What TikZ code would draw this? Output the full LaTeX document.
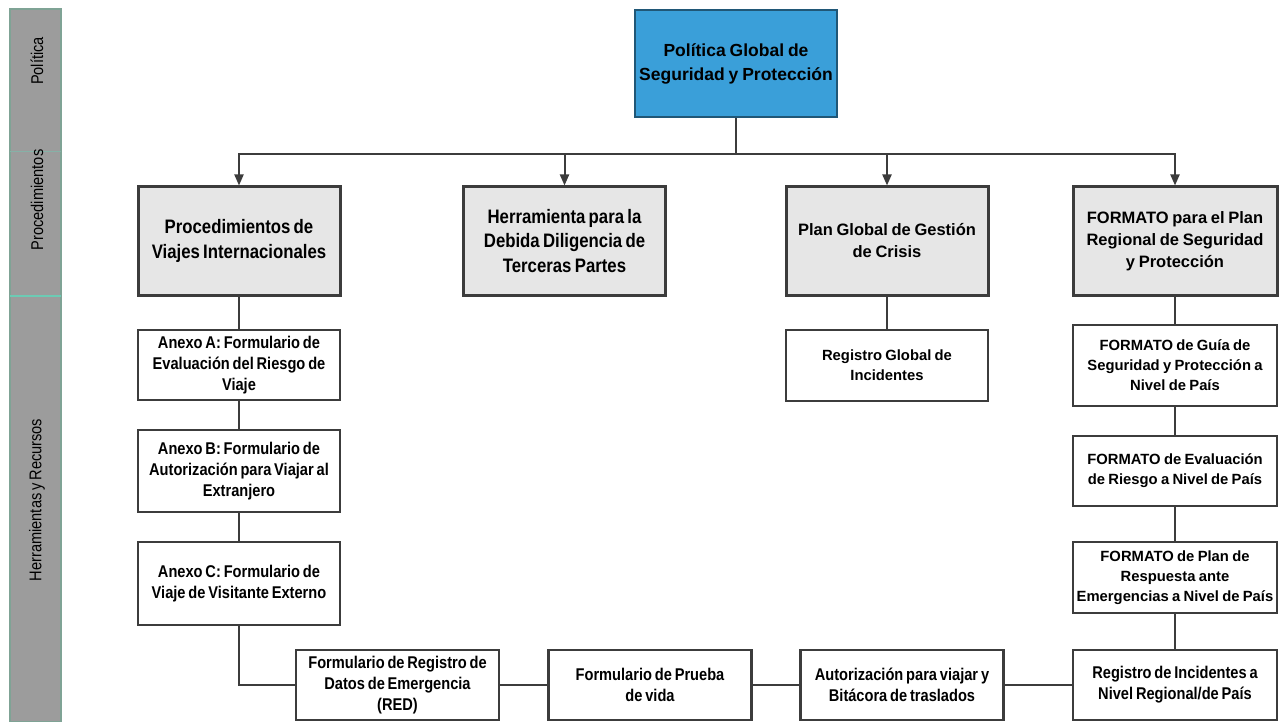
\documentclass[tikz,border=0pt]{standalone}
\usepackage{fontspec}
\setmainfont{Liberation Sans}[WordSpace=0.8]
\newfontfamily\narrowfont{Liberation Sans}[FakeStretch=0.86, WordSpace=0.7]
\usetikzlibrary{arrows.meta,positioning}
\definecolor{polblue}{HTML}{3A9FD9}
\definecolor{procgray}{HTML}{E6E6E6}
\definecolor{edgegray}{HTML}{3C3C3C}
\definecolor{bandgray}{HTML}{9C9C9C}
\definecolor{bandline}{HTML}{7FA395}
\definecolor{bandmark}{HTML}{6CCBB4}
\frenchspacing
\begin{document}
\begin{tikzpicture}[
                x=1pt, y=-1pt,
                policy/.style={draw=polblue!55!black, fill=polblue, line width=1.5pt,
                    minimum width=202pt, minimum height=107pt, align=center,
                    font=\bfseries\fontsize{17.5}{24}\selectfont},
                procbox/.style={draw=edgegray, fill=procgray, line width=3pt,
                    minimum width=202pt, minimum height=108pt, align=center},
                toolbox/.style={draw=edgegray, fill=white, line width=2.2pt,
                    minimum width=202pt, inner xsep=1pt, align=center},
                narrowbig/.style={font=\narrowfont\bfseries\fontsize{19.5}{24.5}\selectfont},
                widebig/.style={font=\bfseries\fontsize{16.5}{22}\selectfont},
                narrowsmall/.style={font=\narrowfont\bfseries\fontsize{17}{21}\selectfont},
                widesmall/.style={font=\bfseries\fontsize{14.8}{20}\selectfont},
                bandlabel/.style={rotate=90, font=\narrowfont\fontsize{17}{19}\selectfont},
                link/.style={draw=edgegray, line width=2pt},
                arrowlink/.style={link, -{Triangle[length=11pt,width=9pt]}},
            ]
            \useasboundingbox (0,0) rectangle (1283,722);

            \filldraw[fill=bandgray, draw=bandline, line width=1.5pt] (10,9) rectangle (61,722);
            \draw[bandmark!45!bandgray, line width=1pt] (10,152) -- (61,152);
            \draw[bandmark, line width=1.5pt] (10,296) -- (61,296);
            \node[bandlabel] (lblPol) at (37,61) {Política};
            \node[bandlabel] (lblProc) at (37,200) {Procedimientos};
            \node[bandlabel] (lblTool) at (37,500) {Herramientas y Recursos};

            \node[policy] (pol) at (736,63.5) {Política Global de\\Seguridad y Protección};

            \node[procbox, narrowbig] (proc) at (239,241) {Procedimientos de\\Viajes Internacionales};
            \node[procbox, narrowbig] (herr) at (564.5,241) {Herramienta para la\\Debida Diligencia de\\Terceras Partes};
            \node[procbox, widebig] (crisis) at (887,241) {Plan Global de Gestión\\de Crisis};
            \node[procbox, widebig, minimum width=204pt] (fmt) at (1175,241) {FORMATO para el Plan\\Regional de Seguridad\\y Protección};

            \node[toolbox, narrowsmall, minimum height=70pt] (anexA) at (239,365) {Anexo A: Formulario de\\Evaluación del Riesgo de\\Viaje};
            \node[toolbox, narrowsmall, minimum height=82pt] (anexB) at (239,471) {Anexo B: Formulario de\\Autorización para Viajar al\\Extranjero};
            \node[toolbox, narrowsmall, minimum height=83pt] (anexC) at (239,583.5) {Anexo C: Formulario de\\Viaje de Visitante Externo};

            \node[toolbox, widesmall, minimum height=71pt] (regG) at (887,365.5) {Registro Global de\\Incidentes};

            \node[toolbox, widesmall, minimum width=204pt, minimum height=81pt] (guia) at (1175,365.5) {FORMATO de Guía de\\Seguridad y Protección a\\Nivel de País};
            \node[toolbox, widesmall, minimum width=204pt, minimum height=70pt] (eval) at (1175,471) {FORMATO de Evaluación\\de Riesgo a Nivel de País};
            \node[toolbox, widesmall, minimum width=204pt, minimum height=71pt] (plan) at (1175,577.5) {FORMATO de Plan de\\Respuesta ante\\Emergencias a Nivel de País};
            \node[toolbox, narrowsmall, minimum width=204pt, minimum height=70pt] (regI) at (1175,685) {Registro de Incidentes a\\Nivel Regional/de País};

            \node[toolbox, narrowsmall, minimum width=203pt, minimum height=70pt] (red) at (397.5,685) {Formulario de Registro de\\Datos de Emergencia\\(RED)};
            \node[toolbox, narrowsmall, minimum width=203pt, minimum height=70pt] (prueba) at (650,685) {Formulario de Prueba\\de vida};
            \node[toolbox, narrowsmall, minimum width=203pt, minimum height=70pt] (autor) at (902,685) {Autorización para viajar y\\Bitácora de traslados};

            \coordinate (bus) at (736,154);
            \draw[link] (pol) -- (bus);
            \draw[arrowlink] (bus) -| (proc.north);
            \draw[arrowlink] (bus) -| (herr.north);
            \draw[arrowlink] (bus) -| (crisis.north);
            \draw[arrowlink] (bus) -| (fmt.north);

            \draw[link] (proc) -- (anexA);
            \draw[link] (anexA) -- (anexB);
            \draw[link] (anexB) -- (anexC);
            \draw[link] (anexC.south) |- (red.west);
            \draw[link] (red) -- (prueba);
            \draw[link] (prueba) -- (autor);
            \draw[link] (autor) -- (regI);

            \draw[link] (crisis) -- (regG);

            \draw[link] (fmt) -- (guia);
            \draw[link] (guia) -- (eval);
            \draw[link] (eval) -- (plan);
            \draw[link] (plan) -- (regI);
            \end{tikzpicture}
\end{document}
